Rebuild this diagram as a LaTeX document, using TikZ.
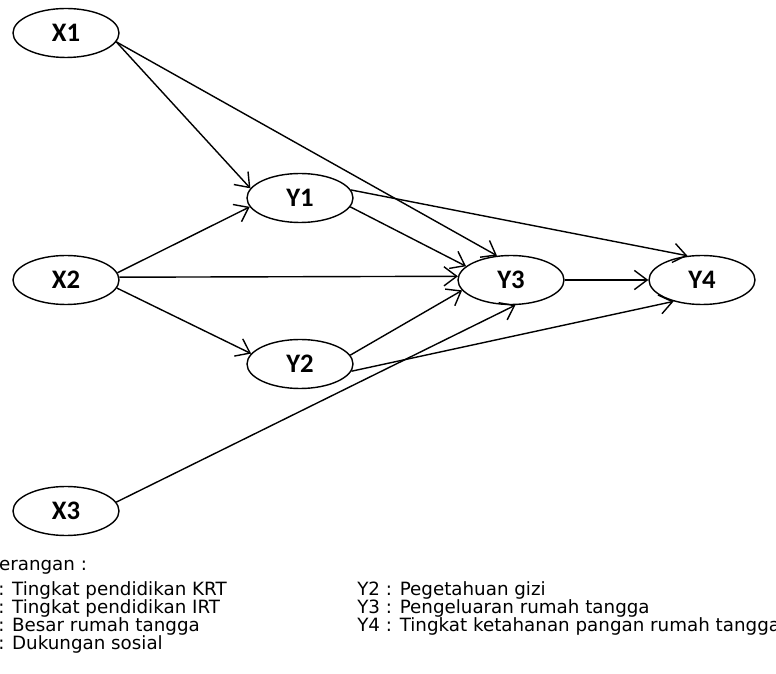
\documentclass[tikz,border=0pt]{standalone}
\usepackage{fontspec}
\setmainfont{DejaVu Sans}
\newfontfamily\varfont{Carlito}
\usetikzlibrary{shapes.geometric,arrows.meta}

\begin{document}
\begin{tikzpicture}[
                    var/.style={ellipse, draw, line width=1pt, minimum width=2.65cm, minimum height=1.225cm, inner sep=0pt, font=\varfont\bfseries\fontsize{19}{19}\selectfont},
                    arr/.style={line width=1pt, -{Straight Barb[length=0.32cm, width=0.48cm, line width=1pt]}},
                    ket/.style={anchor=base west, inner sep=0pt, font=\fontsize{13}{13}\selectfont}
                ]
                    \useasboundingbox (0,0) rectangle (19.4,16.825);
                    \node[var] (X1) at (1.65, 16.0) {X1};
                    \node[var] (X2) at (1.65, 9.825) {X2};
                    \node[var] (X3) at (1.65, 4.05) {X3};
                    \node[var] (Y1) at (7.5, 11.875) {Y1};
                    \node[var] (Y2) at (7.5, 7.725) {Y2};
                    \node[var] (Y3) at (12.775, 9.825) {Y3};
                    \node[var] (Y4) at (17.55, 9.825) {Y4};
                    \draw[arr] (X1.-10) -- (Y1.169);
                    \draw[arr] (X1.-10) -- (Y3.120);
                    \draw[arr] (X2.8) -- (Y1.190);
                    \draw[arr] (X2.3) -- (Y3.176);
                    \draw[arr] (X2.-9) -- (Y2.168);
                    \draw[arr] (Y1.-10) -- (Y3.163);
                    \draw[arr] (Y1.9) -- (Y4.121);
                    \draw[arr] (Y2.10) -- (Y3.192);
                    \draw[arr] (Y2.-8) -- (Y4.217);
                    \draw[arr] (X3.10) -- (Y3.-80);
                    \draw[arr] (Y3.east) -- (Y4.west);
                    \node[ket] (ket) at (-0.03, 2.575) {erangan :};
                    \node[ket] (kx1) at (-0.05, 1.95) {: Tingkat pendidikan KRT};
                    \node[ket] (kx2) at (-0.05, 1.5) {: Tingkat pendidikan IRT};
                    \node[ket] (kx3) at (-0.05, 1.05) {: Besar rumah tangga};
                    \node[ket] (kx4) at (-0.05, 0.6) {: Dukungan sosial};
                    \node[ket] (ky2) at (8.925, 1.95) {Y2 : Pegetahuan gizi};
                    \node[ket] (ky3) at (8.925, 1.5) {Y3 : Pengeluaran rumah tangga};
                    \node[ket] (ky4) at (8.925, 1.05) {Y4 : Tingkat ketahanan pangan rumah tangga};
                \end{tikzpicture}
\end{document}
